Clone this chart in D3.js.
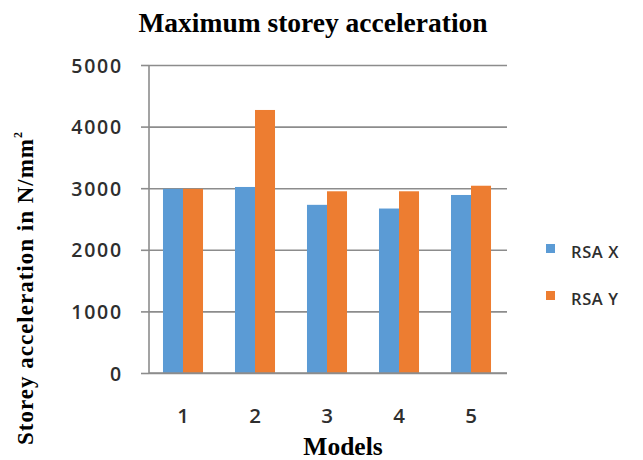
<!DOCTYPE html>
<html>
<head>
<meta charset="utf-8">
<script src="https://cdn.jsdelivr.net/npm/d3@7"></script>
<style>
  html, body { margin: 0; padding: 0; background: #ffffff; }
  svg { display: block; }
  .serif { font-family: "Liberation Serif", "Times New Roman", serif; font-weight: bold; fill: #000; }
  .sans { font-family: "Open Sans", "Liberation Sans", sans-serif; fill: #2e2e2e; font-weight: 600; }
</style>
</head>
<body>
<svg id="chart" width="643" height="460"></svg>
<script>
// Maximum storey acceleration per model, for the two response spectrum directions
const models = ["1", "2", "3", "4", "5"];
const seriesNames = ["RSA X", "RSA Y"];
const rsaX = [2990, 3020, 2730, 2670, 2890];
const rsaY = [2990, 4270, 2950, 2950, 3040];
const yTicks = [0, 1000, 2000, 3000, 4000, 5000];
const colors = ["#5B9BD5", "#ED7D31"];

const svg = d3.select("#chart");
const plot = { left: 149, right: 507, top: 65, bottom: 373 };

const x0 = d3.scaleBand()
  .domain(models)
  .range([147, 507])
  .paddingInner(0.444)
  .paddingOuter(0.222);

const x1 = d3.scaleBand()
  .domain(seriesNames)
  .range([0, x0.bandwidth()]);

const y = d3.scaleLinear()
  .domain([0, 5000])
  .range([plot.bottom, plot.top]);

const color = d3.scaleOrdinal().domain(seriesNames).range(colors);

// Horizontal gridlines
const grid = svg.append("g")
  .attr("transform", `translate(${plot.left},0)`)
  .call(d3.axisLeft(y).tickValues(yTicks).tickSize(-(plot.right - plot.left)).tickFormat(""));
grid.select(".domain").remove();
grid.selectAll(".tick line").attr("stroke", "#8c8c8c").attr("stroke-width", 1.6);

// Bars
const rows = models.map((m, i) => ({ model: m, values: [rsaX[i], rsaY[i]] }));
svg.append("g")
  .selectAll("g")
  .data(rows)
  .join("g")
  .attr("transform", d => `translate(${x0(d.model)},0)`)
  .selectAll("rect")
  .data(d => d.values.map((v, k) => ({ key: seriesNames[k], value: v })))
  .join("rect")
  .attr("x", d => x1(d.key))
  .attr("width", x1.bandwidth())
  .attr("y", d => y(d.value))
  .attr("height", d => y(0) - y(d.value))
  .attr("fill", d => color(d.key));

// Y axis with outer ticks and labels
const yAxis = svg.append("g")
  .attr("transform", `translate(${plot.left},0)`)
  .call(d3.axisLeft(y).tickValues(yTicks).tickSize(8).tickPadding(18).tickFormat(d3.format("d")));
yAxis.select(".domain").attr("stroke", "#8c8c8c").attr("stroke-width", 1.6)
  .attr("d", `M0,${plot.top}V${plot.bottom}`);
yAxis.selectAll(".tick line").attr("stroke", "#8c8c8c").attr("stroke-width", 1.6);
yAxis.selectAll(".tick text")
  .attr("class", "sans")
  .attr("font-size", 19.5)
  .attr("letter-spacing", 1.8)
  .attr("dy", "0.36em");

// X axis baseline and category labels
const xAxis = svg.append("g")
  .attr("transform", `translate(0,${plot.bottom})`)
  .call(d3.axisBottom(x0).tickSize(0).tickPadding(0));
xAxis.select(".domain").attr("stroke", "#8c8c8c").attr("stroke-width", 1.6)
  .attr("d", `M${plot.left},0H${plot.right}`);
xAxis.selectAll(".tick text")
  .attr("class", "sans")
  .attr("font-size", 20.5)
  .attr("y", 50)
  .attr("dy", 0);

// Title
svg.append("text")
  .attr("class", "serif")
  .attr("x", 313)
  .attr("y", 32)
  .attr("text-anchor", "middle")
  .attr("font-size", 27.5)
  .text("Maximum storey acceleration");

// X axis title
svg.append("text")
  .attr("class", "serif")
  .attr("x", 343)
  .attr("y", 455)
  .attr("text-anchor", "middle")
  .attr("font-size", 25.5)
  .text("Models");

// Y axis title
const yTitle = svg.append("text")
  .attr("class", "serif")
  .attr("transform", "translate(33,288) rotate(-90)")
  .attr("text-anchor", "middle")
  .attr("font-size", 23)
  .attr("letter-spacing", 1);
yTitle.append("tspan").text("Storey acceleration in N/mm");
yTitle.append("tspan").attr("font-size", 12).attr("dy", -11).text("2");

// Legend
const legend = svg.append("g")
  .selectAll("g")
  .data(seriesNames)
  .join("g")
  .attr("transform", (d, i) => `translate(546,${244 + i * 47})`);
legend.append("rect")
  .attr("width", 9)
  .attr("height", 9)
  .attr("fill", d => color(d));
legend.append("text")
  .attr("class", "sans")
  .attr("x", 25)
  .attr("y", 14)
  .attr("font-size", 16.5)
  .attr("letter-spacing", 0.6)
  .text(d => d);
</script>
</body>
</html>
